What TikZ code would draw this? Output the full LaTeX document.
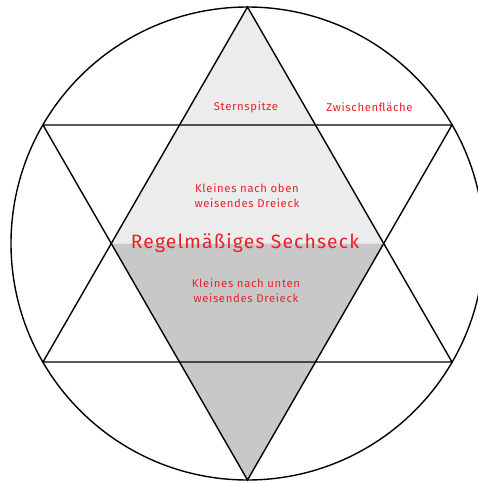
\documentclass[tikz,border=0pt]{standalone}
\usepackage{fontspec}
\setmainfont{Fira Sans}[LetterSpace=6]
\usepackage{tikz}
\definecolor{labelred}{RGB}{236,30,40}
\definecolor{uplight}{RGB}{236,236,236}
\definecolor{downdark}{RGB}{200,200,200}

\begin{document}
\begin{tikzpicture}[x=1pt, y=-1pt, line width=1.4pt,
		lbl/.style={text=labelred, font=\fontsize{11.3}{15}\selectfont, align=center, inner sep=0pt},
		biglbl/.style={text=labelred, font=\fontsize{19.3}{22}\selectfont, inner sep=0pt}]
		\useasboundingbox (0,0) rectangle (478,483);
		\clip (0,0) rectangle (478,483);

		% Star corners
		\coordinate (top) at (247.5,7);
		\coordinate (bot) at (247.5,480);
		\coordinate (ul) at (43,125);
		\coordinate (ur) at (452,125);
		\coordinate (ll) at (43,362);
		\coordinate (lr) at (452,362);
		\coordinate (hl) at (111.3,243.5);
		\coordinate (hr) at (383.7,243.5);

		% Shaded halves
		\fill[uplight] (top) -- (hr) -- (hl) -- cycle;
		\fill[downdark] (bot) -- (hr) -- (hl) -- cycle;

		% Circle and both triangles
		\draw (247.5,243.5) circle (236.5);
		\draw (top) -- (ll) -- (lr) -- cycle;
		\draw (bot) -- (ul) -- (ur) -- cycle;

		% Labels
		\node[lbl] (tip) at (246,107) {Sternspitze};
		\node[lbl] (gap) at (369.5,107) {Zwischenfläche};
		\node[lbl] (upper) at (247,195.5) {Kleines nach oben\\weisendes Dreieck};
		\node[biglbl] (hex) at (245,243) {Regelmäßiges Sechseck};
		\node[lbl] (lower) at (246,291) {Kleines nach unten\\weisendes Dreieck};
	\end{tikzpicture}
\end{document}
